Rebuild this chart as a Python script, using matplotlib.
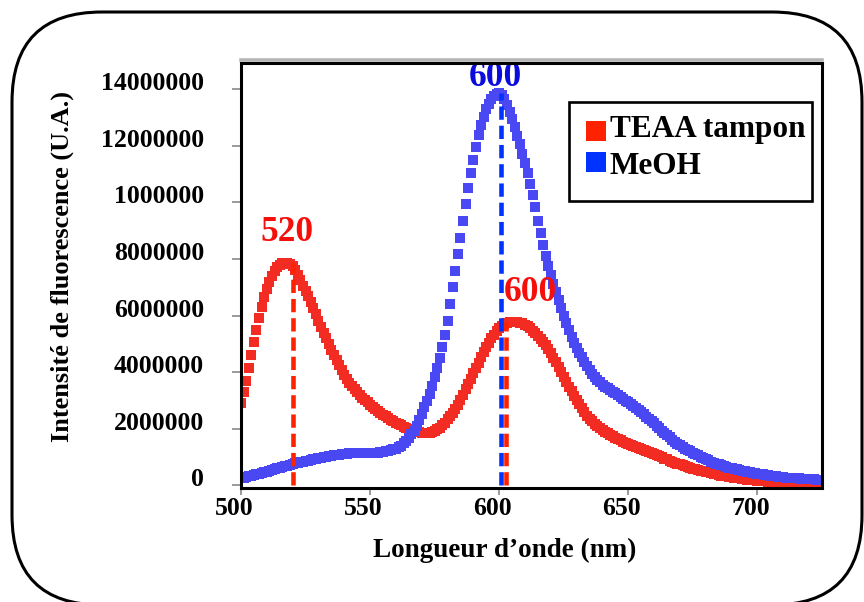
import matplotlib
matplotlib.use("Agg")
import matplotlib.pyplot as plt
import numpy as np
from matplotlib.patches import FancyBboxPatch, Rectangle
from matplotlib.lines import Line2D
from matplotlib.transforms import ScaledTranslation

# ---------------------------------------------------------------- data
wavelengths = list(range(500, 725))          # nm, 1 nm step

# fluorescence intensity, in millions of arbitrary units
teaa_millions = [
    2.90, 3.30, 3.70, 4.15, 4.60, 5.05, 5.50, 5.90, 6.30, 6.65,
    6.95, 7.20, 7.40, 7.57, 7.70, 7.79, 7.84, 7.87, 7.87, 7.83,
    7.74, 7.60, 7.43, 7.25, 7.05, 6.88, 6.68, 6.47, 6.26, 6.04,
    5.82, 5.61, 5.40, 5.20, 5.00, 4.80, 4.61, 4.42, 4.24, 4.07,
    3.91, 3.76, 3.62, 3.50, 3.39, 3.29, 3.19, 3.10, 3.01, 2.93,
    2.85, 2.77, 2.70, 2.63, 2.56, 2.50, 2.44, 2.38, 2.32, 2.27,
    2.22, 2.17, 2.12, 2.07, 2.03, 1.99, 1.96, 1.93, 1.90, 1.88,
    1.87, 1.86, 1.86, 1.87, 1.89, 1.93, 1.98, 2.04, 2.12, 2.22,
    2.33, 2.44, 2.57, 2.70, 2.85, 3.02, 3.20, 3.39, 3.58, 3.77,
    3.96, 4.15, 4.34, 4.53, 4.71, 4.88, 5.04, 5.19, 5.33, 5.45,
    5.55, 5.63, 5.69, 5.74, 5.77, 5.78, 5.78, 5.77, 5.75, 5.72,
    5.68, 5.62, 5.55, 5.47, 5.38, 5.28, 5.18, 5.07, 4.96, 4.82,
    4.67, 4.51, 4.35, 4.18, 4.00, 3.83, 3.66, 3.49, 3.33, 3.17,
    3.01, 2.86, 2.72, 2.59, 2.47, 2.36, 2.26, 2.17, 2.09, 2.02,
    1.95, 1.89, 1.84, 1.79, 1.74, 1.69, 1.64, 1.59, 1.55, 1.51,
    1.47, 1.43, 1.39, 1.35, 1.32, 1.29, 1.25, 1.22, 1.18, 1.15,
    1.11, 1.07, 1.03, 0.99, 0.95, 0.92, 0.88, 0.84, 0.81, 0.77,
    0.74, 0.71, 0.68, 0.65, 0.62, 0.59, 0.57, 0.55, 0.52, 0.50,
    0.48, 0.46, 0.43, 0.41, 0.39, 0.37, 0.35, 0.34, 0.32, 0.30,
    0.29, 0.28, 0.26, 0.25, 0.24, 0.22, 0.21, 0.20, 0.19, 0.18,
    0.17, 0.16, 0.15, 0.14, 0.13, 0.12, 0.11, 0.10, 0.09, 0.08,
    0.08, 0.07, 0.06, 0.06, 0.05, 0.05, 0.04, 0.04, 0.03, 0.03,
    0.03, 0.02, 0.02, 0.02, 0.02,
]

meoh_millions = [
    0.25, 0.28, 0.30, 0.33, 0.35, 0.37, 0.39, 0.42, 0.44, 0.47,
    0.49, 0.52, 0.54, 0.57, 0.60, 0.62, 0.65, 0.68, 0.70, 0.73,
    0.76, 0.78, 0.80, 0.82, 0.84, 0.86, 0.88, 0.90, 0.92, 0.94,
    0.96, 0.97, 0.99, 1.01, 1.03, 1.05, 1.06, 1.08, 1.09, 1.10,
    1.11, 1.12, 1.13, 1.14, 1.14, 1.15, 1.15, 1.15, 1.15, 1.15,
    1.15, 1.15, 1.16, 1.16, 1.17, 1.18, 1.20, 1.22, 1.25, 1.28,
    1.30, 1.35, 1.41, 1.49, 1.58, 1.68, 1.80, 1.94, 2.10, 2.30,
    2.52, 2.76, 3.00, 3.24, 3.52, 3.82, 4.15, 4.50, 4.88, 5.30,
    5.82, 6.40, 7.00, 7.58, 8.16, 8.75, 9.34, 9.93, 10.50, 11.02,
    11.50, 11.95, 12.37, 12.72, 13.02, 13.28, 13.48, 13.64, 13.75, 13.83,
    13.85, 13.80, 13.65, 13.45, 13.20, 12.95, 12.65, 12.35, 12.05, 11.72,
    11.40, 11.05, 10.65, 10.25, 9.83, 9.35, 8.92, 8.50, 8.10, 7.75,
    7.42, 7.12, 6.83, 6.55, 6.27, 6.00, 5.72, 5.48, 5.25, 5.04,
    4.85, 4.68, 4.52, 4.36, 4.21, 4.07, 3.94, 3.83, 3.73, 3.64,
    3.56, 3.49, 3.43, 3.37, 3.31, 3.25, 3.19, 3.13, 3.07, 3.00,
    2.93, 2.86, 2.79, 2.72, 2.65, 2.58, 2.51, 2.43, 2.35, 2.27,
    2.19, 2.11, 2.03, 1.94, 1.86, 1.78, 1.70, 1.62, 1.55, 1.48,
    1.42, 1.36, 1.30, 1.25, 1.20, 1.15, 1.10, 1.06, 1.02, 0.98,
    0.93, 0.89, 0.84, 0.80, 0.77, 0.74, 0.71, 0.68, 0.65, 0.63,
    0.61, 0.59, 0.57, 0.55, 0.52, 0.50, 0.48, 0.46, 0.45, 0.43,
    0.42, 0.41, 0.40, 0.38, 0.37, 0.35, 0.34, 0.32, 0.31, 0.30,
    0.29, 0.28, 0.28, 0.27, 0.26, 0.25, 0.25, 0.24, 0.24, 0.23,
    0.23, 0.22, 0.22, 0.21, 0.21,
]

series_names = ["TEAA tampon", "MeOH"]

# emission maxima marked on the plot (nm)
teaa_peaks = [520, 600]
meoh_peaks = [600]

x_ticks = [500, 550, 600, 650, 700]
y_ticks = [0, 2000000, 4000000, 6000000, 8000000, 10000000, 12000000, 14000000]
y_tick_labels = ["0", "2000000", "4000000", "6000000", "8000000",
                 "1000000", "12000000", "14000000"]

x_label = "Longueur d\u2019onde (nm)"
y_label = "Intensit\u00e9 de fluorescence (U.A.)"

# ---------------------------------------------------------------- style
RED_CURVE = "#F22C22"
BLUE_CURVE = "#4A48F2"
RED_MARK = "#FF2200"
BLUE_MARK = "#0033FF"
RED_TEXT = "#F50F0A"
BLUE_TEXT = "#0B0BDE"
TICK_GREY = "#9a9a9a"

plt.rcParams["font.family"] = ["Liberation Serif", "DejaVu Serif"]
plt.rcParams["font.weight"] = "bold"

W, H = 864, 602
fig = plt.figure(figsize=(W / 100, H / 100), dpi=100)


def fpos(x, y):
    """pixel position measured from the top-left corner -> figure fraction"""
    return x / W, 1 - y / H


def px_shift(dx, dy=0):
    return ScaledTranslation(dx / 100, dy / 100, fig.dpi_scale_trans)


ax_left, ax_right, ax_top, ax_bottom = 241, 822, 63, 488
ax = fig.add_axes([ax_left / W, 1 - ax_bottom / H,
                   (ax_right - ax_left) / W, (ax_bottom - ax_top) / H])

wl = np.array(wavelengths)
teaa = np.array(teaa_millions) * 1e6
meoh = np.array(meoh_millions) * 1e6

# spectra drawn as dense square markers (1 nm sampling)
ax.plot(wl, teaa, linestyle="none", marker="s", ms=6.8, mew=0,
        color=RED_CURVE, zorder=3)
ax.plot(wl, meoh, linestyle="none", marker="s", ms=6.8, mew=0,
        color=BLUE_CURVE, zorder=4)


def local_max(series, centre, half=12):
    sel = (wl >= centre - half) & (wl <= centre + half)
    return series[sel].max()


dash = (0, (2.9, 1.3))

# dashed drop lines at the emission maxima (the two 600 nm lines sit side by side)
ax.plot([teaa_peaks[0]] * 2, [0, local_max(teaa, teaa_peaks[0])],
        color=RED_MARK, lw=3.3, linestyle=dash, zorder=6)
ax.plot([meoh_peaks[0]] * 2, [0, local_max(meoh, meoh_peaks[0])],
        color=BLUE_MARK, lw=3.3, linestyle=dash, zorder=6,
        transform=ax.transData + px_shift(2))
ax.plot([teaa_peaks[1]] * 2, [0, local_max(teaa, teaa_peaks[1])],
        color=RED_MARK, lw=3.3, linestyle=dash, zorder=6,
        transform=ax.transData + px_shift(7))

# peak annotations
ax.text(517.7, 8.95e6, str(teaa_peaks[0]), color=RED_TEXT, fontsize=25.5,
        fontweight="bold", ha="center", va="center", zorder=7)
ax.text(612.0, 6.80e6, str(teaa_peaks[1]), color=RED_TEXT, fontsize=25.5,
        fontweight="bold", ha="center", va="center", zorder=7)
ax.text(598.5, 14.42e6, str(meoh_peaks[0]), color=BLUE_TEXT, fontsize=25.5,
        fontweight="bold", ha="center", va="center", zorder=7)

# axes limits, ticks
ax.set_xlim(500, 725)
ax.set_ylim(-0.09e6, 14.92e6)
ax.set_xticks(x_ticks)
ax.set_xticklabels([str(t) for t in x_ticks])
ax.set_yticks(y_ticks)
ax.set_yticklabels(y_tick_labels)
ax.tick_params(axis="y", direction="out", length=6.5, width=1.4,
               color=TICK_GREY, pad=20, labelsize=18.5)
ax.tick_params(axis="x", direction="out", length=5, width=1.4,
               color=TICK_GREY, pad=1.5, labelsize=18.5)
for lab in ax.get_yticklabels():
    lab.set_fontweight("bold")
    lab.set_transform(lab.get_transform() + px_shift(0, 8))
for lab in ax.get_xticklabels():
    lab.set_fontweight("bold")
    lab.set_transform(lab.get_transform() + px_shift(-7))

for sp in ax.spines.values():
    sp.set_linewidth(2.2)
    sp.set_color("black")
    sp.set_zorder(8)

# soft grey shadow along the top edge of the plot frame
fig.add_artist(Line2D([fpos(ax_left, 0)[0], fpos(ax_right, 0)[0]],
                      [fpos(0, 60)[1]] * 2, color="#b5b5b5", lw=2.6,
                      transform=fig.transFigure, zorder=1))

# axis titles
fig.text(*fpos(505, 550), x_label, fontsize=19.5, fontweight="bold",
         ha="center", va="center")
fig.text(*fpos(62, 267), y_label, fontsize=19, fontweight="bold",
         ha="center", va="center", rotation=90)

# legend box
lx0, ly0, lx1, ly1 = 569, 102, 812, 201
fig.add_artist(Rectangle(fpos(lx0, ly1), (lx1 - lx0) / W, (ly1 - ly0) / H,
                         transform=fig.transFigure, facecolor="white",
                         edgecolor="black", lw=1.9, zorder=10))
legend_rows = [(131, 136.7, RED_MARK, series_names[0]),
               (162, 173.5, BLUE_MARK, series_names[1])]
for sq_y, base_y, col, name in legend_rows:
    fig.add_artist(Line2D([fpos(596, 0)[0]], [fpos(0, sq_y)[1]],
                          marker="s", ms=14.2, mew=0, color=col,
                          linestyle="none", transform=fig.transFigure,
                          zorder=11))
    fig.text(*fpos(610, base_y), name, fontsize=22.5, fontweight="bold",
             ha="left", va="baseline", zorder=11)

# rounded outer frame
fig.add_artist(FancyBboxPatch((0.12, -0.03), 8.50, 5.93,
                              boxstyle="round,pad=0,rounding_size=0.9",
                              transform=fig.dpi_scale_trans, fill=False,
                              edgecolor="black", lw=2.2, zorder=12))

fig.savefig("out.png", dpi=100)
